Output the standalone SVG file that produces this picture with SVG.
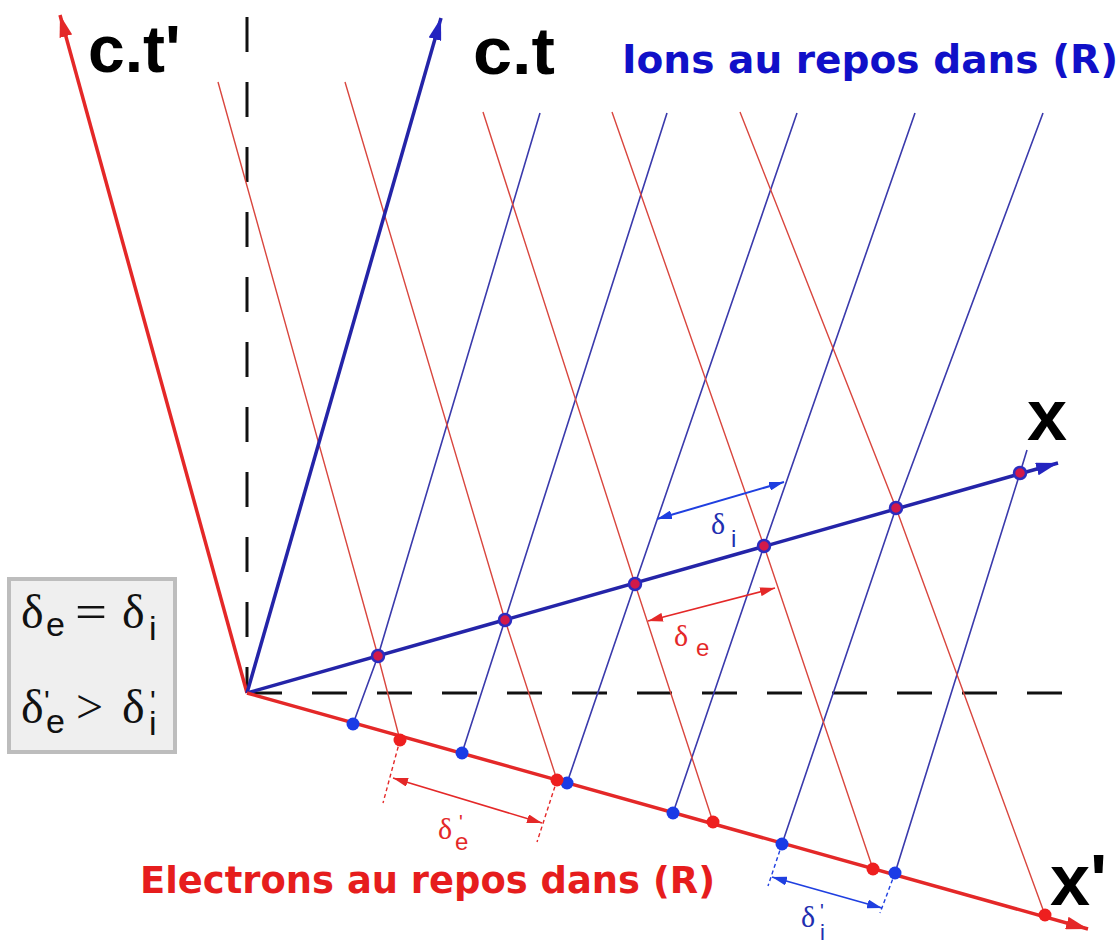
<svg xmlns="http://www.w3.org/2000/svg" width="1120" height="945" viewBox="0 0 1120 945">
<defs>
<style>
.dash{stroke:#111;stroke-width:3;stroke-dasharray:35 30;fill:none}
.wb{stroke:#3a3aac;stroke-width:1.6;fill:none}
.wr{stroke:#d9463e;stroke-width:1.4;fill:none}
.axb{stroke:#2424a8;stroke-width:3.5;fill:none}
.axr{stroke:#e42828;stroke-width:3.5;fill:none}
.ext{stroke-width:1.4;stroke-dasharray:4 3;fill:none}
.db{fill:#1b3be6}
.dr{fill:#ee1f1f}
.dx{fill:#d21a4a;stroke:#2c2cc0;stroke-width:2.5}
.big{font-family:"Liberation Sans",Arial,sans-serif;font-weight:bold;fill:#000}
.title{font-family:"DejaVu Sans",Verdana,sans-serif;font-weight:bold}
.g{font-family:"Liberation Serif","Times New Roman",serif}
.s{font-family:"Liberation Sans",Arial,sans-serif}
</style>
<marker id="ahR" viewBox="0 0 10 10" refX="10" refY="5" markerWidth="22" markerHeight="13" markerUnits="userSpaceOnUse" orient="auto" preserveAspectRatio="none"><path d="M0,0 L10,5 L0,10 z" fill="#e42828"/></marker>
<marker id="ahB" viewBox="0 0 10 10" refX="10" refY="5" markerWidth="22" markerHeight="13" markerUnits="userSpaceOnUse" orient="auto" preserveAspectRatio="none"><path d="M0,0 L10,5 L0,10 z" fill="#2424c0"/></marker>
<marker id="dR" viewBox="0 0 10 10" refX="10" refY="5" markerWidth="15" markerHeight="9" markerUnits="userSpaceOnUse" orient="auto-start-reverse" preserveAspectRatio="none"><path d="M0,0 L10,5 L0,10 z" fill="#e42828"/></marker>
<marker id="dB" viewBox="0 0 10 10" refX="10" refY="5" markerWidth="15" markerHeight="9" markerUnits="userSpaceOnUse" orient="auto-start-reverse" preserveAspectRatio="none"><path d="M0,0 L10,5 L0,10 z" fill="#1f3fe0"/></marker>
</defs>
<rect width="1120" height="945" fill="#fff"/>

<g id="reference-dashes">
<line class="dash" x1="247" y1="17" x2="247" y2="693"/>
<line class="dash" x1="247" y1="693" x2="1070" y2="693"/>
</g>

<g id="connectors">
<g id="ion-worldlines">
<polyline class="wb" points="540,113 378,656 353,724"/>
<polyline class="wb" points="667,113 505,620 462,753"/>
<polyline class="wb" points="797,113 635,584 567,783"/>
<polyline class="wb" points="915,113 764,546 673,813"/>
<polyline class="wb" points="1043,113 896,508 782,844"/>
<polyline class="wb" points="1027,450 1020,473 895,873"/>
</g>
<g id="electron-worldlines">
<polyline class="wr" points="218,82 378,656 400,740"/>
<polyline class="wr" points="345,82 505,620 557,780"/>
<polyline class="wr" points="483,112 635,584 713,822"/>
<polyline class="wr" points="612,112 764,546 873,869"/>
<polyline class="wr" points="740,112 896,508 1045,915"/>
</g>
<g id="axes">
<line class="axr" x1="247" y1="693" x2="60" y2="15" marker-end="url(#ahR)"/>
<line class="axb" x1="247" y1="693" x2="441" y2="18" marker-end="url(#ahB)"/>
<line class="axb" x1="247" y1="693" x2="1058" y2="463" marker-end="url(#ahB)"/>
<line class="axr" x1="247" y1="693" x2="1088" y2="929" marker-end="url(#ahR)"/>
</g>
<g id="dimensions">
<line x1="657" y1="519" x2="784" y2="482" stroke="#1f3fe0" stroke-width="2" marker-start="url(#dB)" marker-end="url(#dB)"/>
<line x1="648" y1="621" x2="775" y2="588" stroke="#e42828" stroke-width="1.6" marker-start="url(#dR)" marker-end="url(#dR)"/>
<line class="ext" stroke="#e42828" x1="400" y1="740" x2="383" y2="803"/>
<line class="ext" stroke="#e42828" x1="557" y1="780" x2="537" y2="842"/>
<line x1="393" y1="778" x2="542" y2="823" stroke="#e42828" stroke-width="1.6" marker-start="url(#dR)" marker-end="url(#dR)"/>
<line class="ext" stroke="#1f3fe0" x1="782" y1="844" x2="768" y2="886"/>
<line class="ext" stroke="#1f3fe0" x1="895" y1="873" x2="880" y2="913"/>
<line x1="772" y1="877" x2="882" y2="908" stroke="#1f3fe0" stroke-width="1.8" marker-start="url(#dB)" marker-end="url(#dB)"/>
</g>
</g>

<g id="dots-x">
<circle class="dx" cx="378" cy="656" r="6"/>
<circle class="dx" cx="505" cy="620" r="6"/>
<circle class="dx" cx="635" cy="584" r="6"/>
<circle class="dx" cx="764" cy="546" r="6"/>
<circle class="dx" cx="896" cy="508" r="6"/>
<circle class="dx" cx="1020" cy="473" r="6"/>
</g>
<g id="dots-xprime">
<circle class="db" cx="353" cy="724" r="6.5"/>
<circle class="db" cx="462" cy="753" r="6.5"/>
<circle class="db" cx="567" cy="783" r="6.5"/>
<circle class="db" cx="673" cy="813" r="6.5"/>
<circle class="db" cx="782" cy="844" r="6.5"/>
<circle class="db" cx="895" cy="873" r="6.5"/>
<circle class="dr" cx="400" cy="740" r="6.5"/>
<circle class="dr" cx="557" cy="780" r="6.5"/>
<circle class="dr" cx="713" cy="822" r="6.5"/>
<circle class="dr" cx="873" cy="869" r="6.5"/>
<circle class="dr" cx="1045" cy="915" r="6.5"/>
</g>

<g id="axis-labels">
<text class="big" x="88" y="72" font-size="66">c.t'</text>
<text class="big" x="473" y="74" font-size="66" textLength="82" lengthAdjust="spacingAndGlyphs">c.t</text>
<text class="big" x="1027" y="440" font-size="72">x</text>
<text class="big" x="1050" y="905" font-size="72">x'</text>
</g>

<g id="titles">
<text class="title" x="622" y="73" font-size="39" fill="#1010c8" textLength="496" lengthAdjust="spacingAndGlyphs">Ions au repos dans (R)</text>
<text class="title" x="140" y="893" font-size="38" fill="#e61d1d" textLength="575" lengthAdjust="spacingAndGlyphs">Electrons au repos dans (R)</text>
</g>

<g id="delta-labels">
<text class="g" font-size="30" fill="#1f2fb0"><tspan x="711" y="534">δ</tspan><tspan class="s" x="731" y="547" font-size="24">i</tspan></text>
<text class="g" font-size="30" fill="#e42828"><tspan x="674" y="646">δ</tspan><tspan class="s" x="696" y="656" font-size="24">e</tspan></text>
<text class="g" font-size="30" fill="#e42828"><tspan x="438" y="839">δ</tspan><tspan class="s" x="459" y="829" font-size="20">'</tspan><tspan class="s" x="455" y="850" font-size="24">e</tspan></text>
<text class="g" font-size="30" fill="#1f2fb0"><tspan x="801" y="927">δ</tspan><tspan class="s" x="820" y="918" font-size="20">'</tspan><tspan class="s" x="820" y="940" font-size="22">i</tspan></text>
</g>

<g id="relation-box">
<rect x="9" y="579" width="166" height="173" fill="#efefef" stroke="#bdbdbd" stroke-width="4"/>
<text class="g" font-size="48" fill="#111"><tspan x="21" y="628">δ</tspan><tspan class="s" x="46" y="636" font-size="34">e</tspan><tspan x="75" y="628" textLength="32" lengthAdjust="spacingAndGlyphs">=</tspan><tspan x="122" y="628">δ</tspan><tspan class="s" x="149" y="640" font-size="34">i</tspan></text>
<text class="g" font-size="48" fill="#111"><tspan x="21" y="723">δ</tspan><tspan class="s" x="44" y="711" font-size="30">'</tspan><tspan class="s" x="46" y="733" font-size="34">e</tspan><tspan x="76" y="723">&gt;</tspan><tspan x="122" y="723">δ</tspan><tspan class="s" x="150" y="711" font-size="30">'</tspan><tspan class="s" x="149" y="735" font-size="34">i</tspan></text>
</g>
</svg>
